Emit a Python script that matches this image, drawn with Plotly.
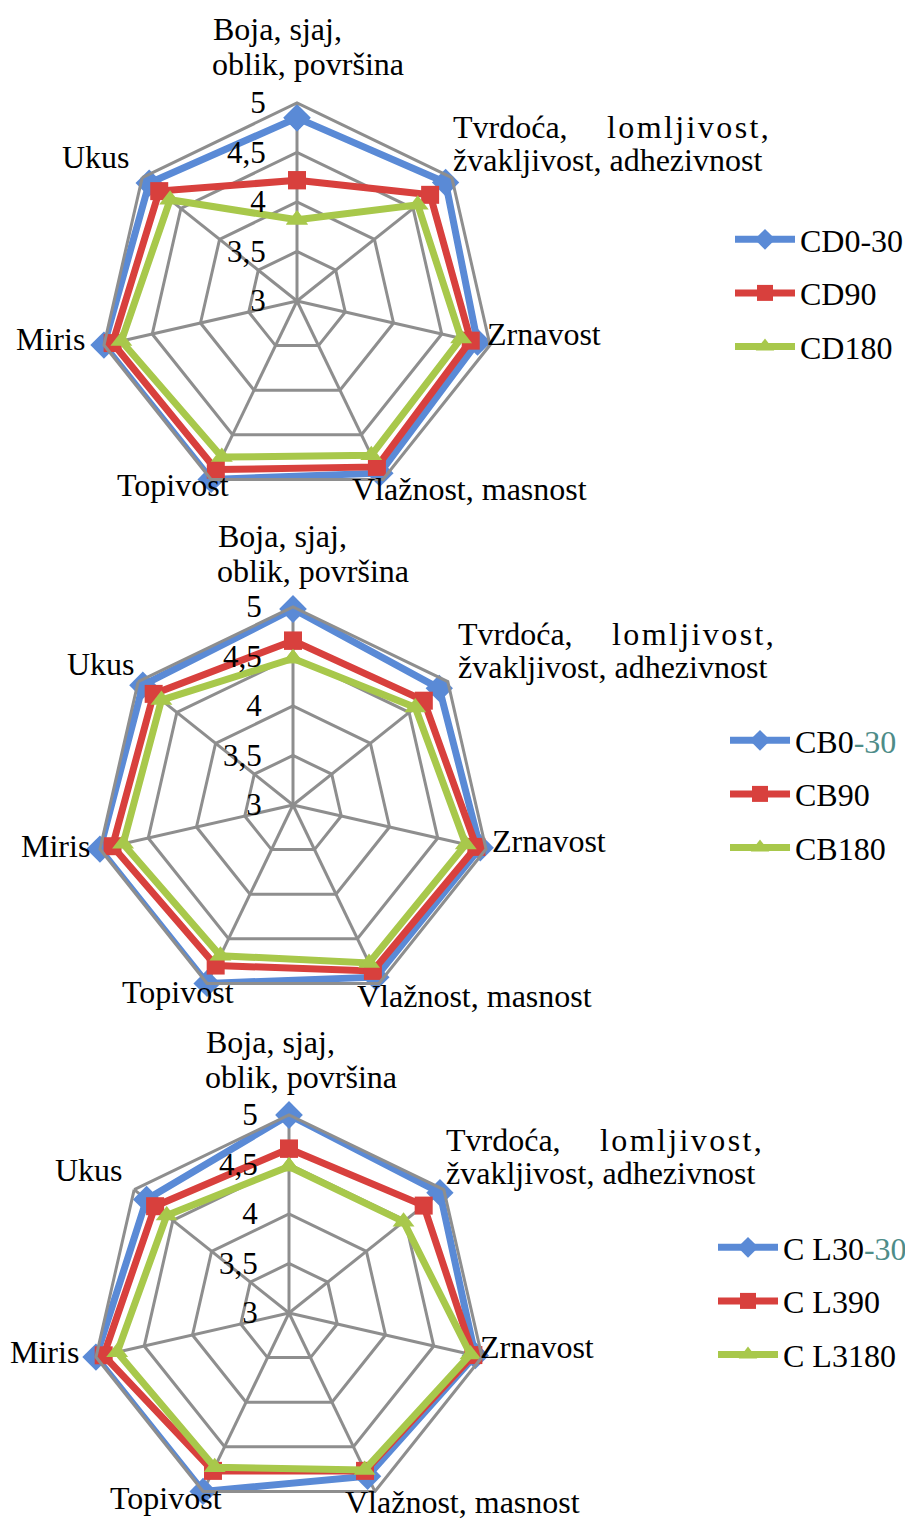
import plotly.graph_objects as go

W, H = 913, 1520

categories = ["Boja, sjaj, oblik, površina",
              "Tvrdoća, lomljivost, žvakljivost, adhezivnost",
              "Zrnavost", "Vlažnost, masnost", "Topivost", "Miris", "Ukus"]

radial_ticks = [3, 3.5, 4, 4.5, 5]
radial_ticktext = ["3", "3,5", "4", "4,5", "5"]

# chart 1 (CD)
cd_names = ["CD0-30", "CD90", "CD180"]
cd0_30 = [4.85, 4.92, 4.87, 4.93, 5.0, 5.0, 4.91]
cd90 = [4.22, 4.72, 4.80, 4.86, 4.89, 4.91, 4.78]
cd180 = [3.82, 4.56, 4.70, 4.73, 4.75, 4.82, 4.64]

# chart 2 (CB)
cb_names = ['CB0<span style="color:#4E8C88">-30</span>', "CB90", "CB180"]
cb0_30 = [4.98, 4.89, 4.94, 4.93, 5.0, 5.0, 4.94]
cb90 = [4.66, 4.69, 4.90, 4.86, 4.80, 4.87, 4.80]
cb180 = [4.48, 4.58, 4.79, 4.77, 4.69, 4.76, 4.70]

# chart 3 (C L3)
cl_names = ['C L30<span style="color:#4E8C88">-30</span>', "C L390", "C L3180"]
cl30_30 = [5.0, 4.95, 4.93, 4.83, 5.0, 5.0, 4.84]
cl390 = [4.66, 4.74, 4.91, 4.77, 4.77, 4.92, 4.73]
cl3180 = [4.48, 4.48, 4.88, 4.76, 4.73, 4.78, 4.58]

COLORS = ["#5A8AD6", "#D8403D", "#A8C84B"]
SYMBOLS = ["diamond", "square", "triangle-up"]
MSIZE = [21, 18, 19]
GRID = "#8E8E8E"
FONT = "Liberation Serif"
FS = 32

charts = [
    dict(names=cd_names, series=[cd0_30, cd90, cd180], center=(289, 293),
         legend=(722, 204)),
    dict(names=cb_names, series=[cb0_30, cb90, cb180], center=(285, 797),
         legend=(717, 705)),
    dict(names=cl_names, series=[cl30_30, cl390, cl3180], center=(281, 1305),
         legend=(705, 1212)),
]

# label placements (left x, center y) for chart 1; other charts shifted
label_lines = [
    ("Boja, sjaj,", 203, 21),
    ("oblik, površina", 202, 56),
    ("Tvrdoća,", 443, 119),
    ('<span style="letter-spacing:2.4px">lomljivost,</span>', 597, 119),
    ("žvakljivost, adhezivnost", 443, 152),
    ("Zrnavost", 477, 326),
    ("Vlažnost, masnost", 342, 481),
    ("Topivost", 107, 477),
    ("Miris", 6, 331),
    ("Ukus", 52, 149),
]
label_shift = [(0, 0), (5, 507), (-7, 1013)]

R = 198
fig = go.Figure()
layout = dict(width=W, height=H, margin=dict(l=0, r=0, t=0, b=0),
              paper_bgcolor="white", plot_bgcolor="white",
              font=dict(family=FONT, size=FS, color="black"),
              annotations=[])

for ci, ch in enumerate(charts):
    pid = "polar" if ci == 0 else f"polar{ci + 1}"
    lid = "legend" if ci == 0 else f"legend{ci + 1}"
    cx, cy = ch["center"]
    for si in range(3):
        vals = ch["series"][si]
        fig.add_trace(go.Scatterpolar(
            r=vals + [vals[0]], theta=categories + [categories[0]],
            mode="lines+markers", name=ch["names"][si],
            line=dict(color=COLORS[si], width=7),
            marker=dict(symbol=SYMBOLS[si], size=MSIZE[si], color=COLORS[si]),
            subplot=pid, legend=lid, legendgroup=f"g{ci}{si}",
            cliponaxis=False,
        ))
    layout[pid] = dict(
        domain=dict(x=[(cx - R) / W, (cx + R) / W],
                    y=[1 - (cy + R) / H, 1 - (cy - R) / H]),
        gridshape="linear",
        bgcolor="rgba(0,0,0,0)",
        radialaxis=dict(range=[3, 5], tickvals=radial_ticks, ticktext=radial_ticktext,
                        angle=90, tickangle=90, side="counterclockwise",
                        showline=False, ticks="outside", ticklen=20,
                        tickcolor="rgba(0,0,0,0)",
                        gridcolor=GRID, gridwidth=3,
                        tickfont=dict(family=FONT, size=31, color="black")),
        angularaxis=dict(categoryarray=categories, categoryorder="array",
                         direction="clockwise", rotation=90,
                         showticklabels=False, ticks="",
                         showline=True, linecolor=GRID, linewidth=3,
                         gridcolor=GRID, gridwidth=3),
    )
    lx, ly = ch["legend"]
    layout[lid] = dict(x=lx / W, y=1 - ly / H, xanchor="left", yanchor="top",
                       bgcolor="rgba(0,0,0,0)", tracegroupgap=9,
                       itemwidth=60,
                       font=dict(family=FONT, size=FS, color="black"))
    dx, dy = label_shift[ci]
    for text, px, py in label_lines:
        layout["annotations"].append(dict(
            text=text, x=max(0, px + dx) / W, y=1 - (py + dy) / H,
            xref="paper", yref="paper", xanchor="left", yanchor="middle",
            showarrow=False, font=dict(family=FONT, size=FS, color="black")))

fig.update_layout(**layout)
fig.write_html("out.html")
